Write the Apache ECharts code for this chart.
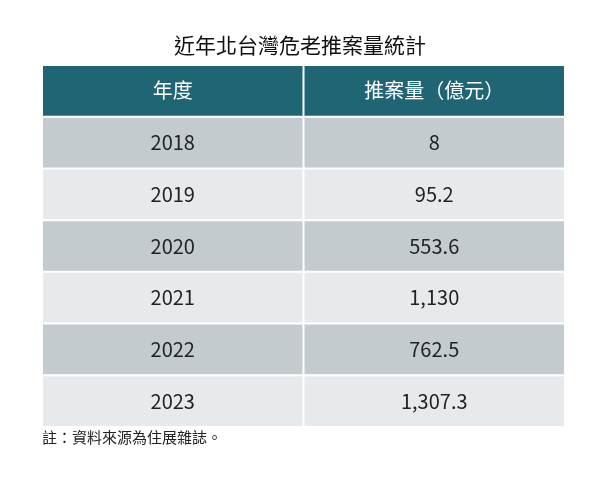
<!DOCTYPE html>
<html lang="zh-Hant">
<head>
  <meta charset="UTF-8">
  <title>近年北台灣危老推案量統計</title>
</head>
<body style="margin:0">
<div id="chart" style="width:600px;height:485px"></div>
<script src="https://cdn.jsdelivr.net/npm/echarts@6/dist/echarts.min.js"></script>
<script>
  const headers = ['年度', '推案量（億元）'];
  const years = ['2018', '2019', '2020', '2021', '2022', '2023'];
  const amounts = ['8', '95.2', '553.6', '1,130', '762.5', '1,307.3'];

  const font = 'Noto Sans CJK TC';
  const rowNames = ['header'].concat(years);
  const cells = [];
  headers.forEach((h, c) => cells.push([c, 0, h]));
  years.forEach((y, i) => {
    cells.push([0, i + 1, y]);
    cells.push([1, i + 1, amounts[i]]);
  });

  function fillFor(row) {
    if (row === 0) return '#1f6573';
    return row % 2 === 1 ? '#c4cbcf' : '#e7eaec';
  }

  const chart = echarts.init(document.getElementById('chart'));
  chart.setOption({
    animation: false,
    backgroundColor: '#fff',
    title: {
      text: '近年北台灣危老推案量統計',
      left: 'center',
      top: 30,
      textStyle: { fontFamily: font, fontWeight: 'normal', fontSize: 21, color: '#111' }
    },
    graphic: [{
      type: 'text',
      left: 42,
      top: 430,
      style: { text: '註：資料來源為住展雜誌。', font: '15px "Noto Sans CJK TC"', fill: '#222' }
    }],
    grid: { left: 42, right: 35, top: 65, height: 362 },
    xAxis: { type: 'category', data: [0, 1], show: false },
    yAxis: { type: 'category', data: rowNames, inverse: true, show: false },
    series: [{
      type: 'custom',
      data: cells,
      renderItem: function (params, api) {
        const c = api.coord([api.value(0), api.value(1)]);
        const s = api.size([1, 1]);
        const row = api.value(1);
        const text = cells[params.dataIndex][2];
        return {
          type: 'group',
          children: [{
            type: 'rect',
            shape: { x: c[0] - s[0] / 2 + 1, y: c[1] - s[1] / 2 + 1, width: s[0] - 2, height: s[1] - 2 },
            style: { fill: fillFor(row) }
          }, {
            type: 'text',
            x: c[0], y: c[1],
            style: {
              text: text,
              align: 'center', verticalAlign: 'middle',
              font: '20px "Noto Sans CJK TC"',
              fill: row === 0 ? '#fff' : '#222'
            }
          }]
        };
      }
    }]
  });
</script>
</body>
</html>
